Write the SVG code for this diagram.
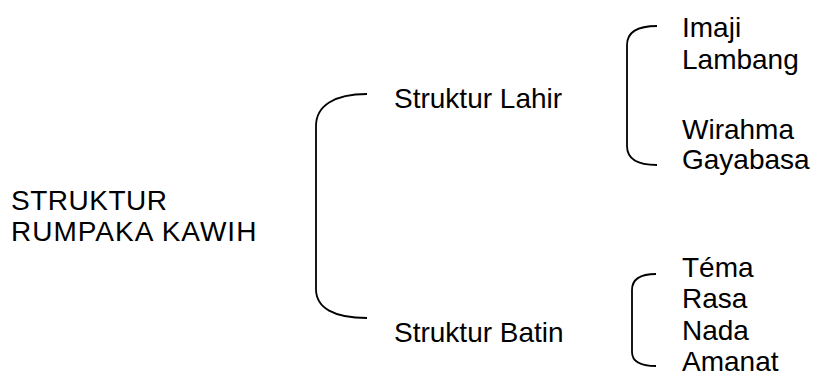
<svg xmlns="http://www.w3.org/2000/svg" width="816" height="376" viewBox="0 0 816 376">
<style>
.t{font-family:"Liberation Sans",Arial,sans-serif;font-size:28px;fill:#000}
.b{fill:none;stroke:#000;stroke-width:1.8}
</style>
<rect width="816" height="376" fill="#fff"/>
<g id="connectors">
<path class="b" d="M367,94 C334,94 316,106 316,126 L316,289 C316,308 334,318 367,318"/>
<path class="b" d="M657,26 C637,26 627,33 627,45 L627,146 C627,158 637,165 657,165"/>
<path class="b" d="M656,274 C640,274 632,280 632,290 L632,352 C632,361 640,366 656,366"/>
</g>
<g id="root"><text class="t" x="11" y="210" letter-spacing="0.5">STRUKTUR</text><text class="t" x="11" y="241" letter-spacing="1">RUMPAKA KAWIH</text></g>
<g id="lahir"><text class="t" x="394" y="108">Struktur Lahir</text></g>
<g id="batin"><text class="t" x="394" y="342">Struktur Batin</text></g>
<g id="lahir-items"><text class="t" x="682" y="37">Imaji</text><text class="t" x="682" y="69">Lambang</text><text class="t" x="682" y="139">Wirahma</text><text class="t" x="682" y="169">Gayabasa</text></g>
<g id="batin-items"><text class="t" x="682" y="277">Téma</text><text class="t" x="682" y="308">Rasa</text><text class="t" x="682" y="340">Nada</text><text class="t" x="682" y="371">Amanat</text></g>
</svg>
